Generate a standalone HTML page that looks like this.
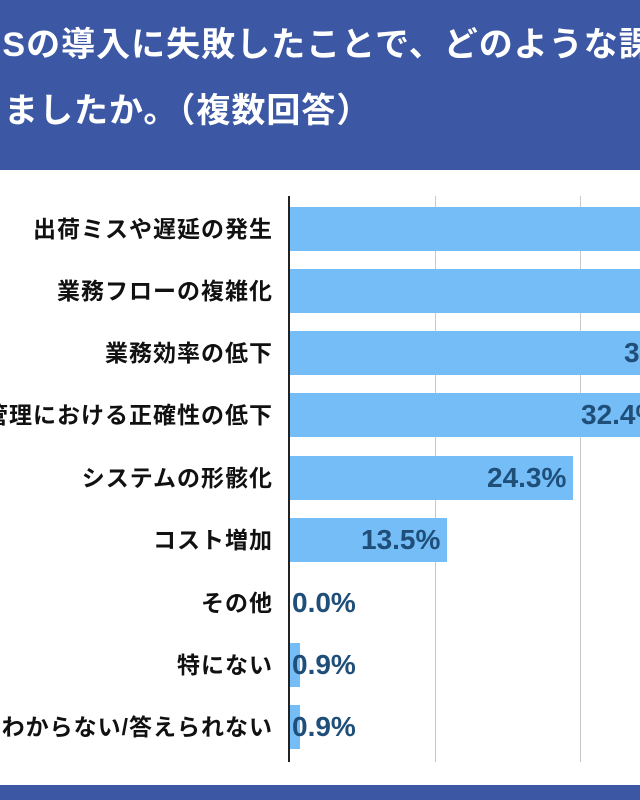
<!DOCTYPE html>
<html><head><meta charset="utf-8"><style>
body{margin:0;width:640px;height:800px;overflow:hidden;background:#fff;position:relative;font-family:"Liberation Sans","Noto Sans CJK JP",sans-serif}
.hd{position:absolute;left:0;top:0;width:640px;height:170px;background:#3c58a5;overflow:hidden}
.t{position:absolute;color:#fff;font-weight:bold;font-size:34px;letter-spacing:1px;white-space:nowrap;line-height:1}
.ft{position:absolute;left:0;top:785px;width:640px;height:15px;background:#3c58a5}
.g{position:absolute;top:196px;height:566px;width:1px;background:#c8c8c8}
.ax{position:absolute;left:288px;top:196px;width:2px;height:566px;background:#222}
.lb{position:absolute;right:367px;font-weight:bold;font-size:23px;letter-spacing:1px;color:#111;white-space:nowrap;line-height:24px}
.wrap{position:absolute;left:0;top:0;width:640px;height:800px;overflow:hidden}
.b{position:absolute;left:290px;height:44px;background:#74bdf7}
.v{position:absolute;font-weight:bold;font-size:28px;color:#1f4e79;line-height:30px;white-space:nowrap}
</style></head><body>
<div class="hd">
<div class="t" style="left:-60px;top:28px">WMSの導入に失敗したことで、どのような課題</div>
<div class="t" style="left:-66px;top:94px">ありましたか。（複数回答）</div>
</div>
<div class="wrap">
<div class="g" style="left:435px"></div>
<div class="g" style="left:580px"></div>
<div class="ax"></div>

<div class="b" style="top:207px;width:350px"></div>
<div class="b" style="top:269px;width:350px"></div>
<div class="b" style="top:331px;width:350px"></div><div class="v" style="left:624px;top:338px">36.0%</div>
<div class="b" style="top:393px;width:350px"></div><div class="v" style="left:581px;top:400px">32.4%</div>
<div class="b" style="top:456px;width:283px"></div><div class="v" style="left:487px;top:463px">24.3%</div>
<div class="b" style="top:518px;width:157px"></div><div class="v" style="left:361px;top:525px">13.5%</div>
<div class="v" style="left:292px;top:588px">0.0%</div>
<div class="b" style="top:643px;width:10px"></div><div class="v" style="left:292px;top:650px">0.9%</div>
<div class="b" style="top:705px;width:10px"></div><div class="v" style="left:292px;top:712px">0.9%</div>

<div class="lb" style="top:217px">出荷ミスや遅延の発生</div>
<div class="lb" style="top:279px">業務フローの複雑化</div>
<div class="lb" style="top:341px">業務効率の低下</div>
<div class="lb" style="top:403px">在庫管理における正確性の低下</div>
<div class="lb" style="top:466px">システムの形骸化</div>
<div class="lb" style="top:528px">コスト増加</div>
<div class="lb" style="top:591px">その他</div>
<div class="lb" style="top:653px">特にない</div>
<div class="lb" style="top:715px">わからない/答えられない</div>
</div>
<div class="ft"></div>
</body></html>
